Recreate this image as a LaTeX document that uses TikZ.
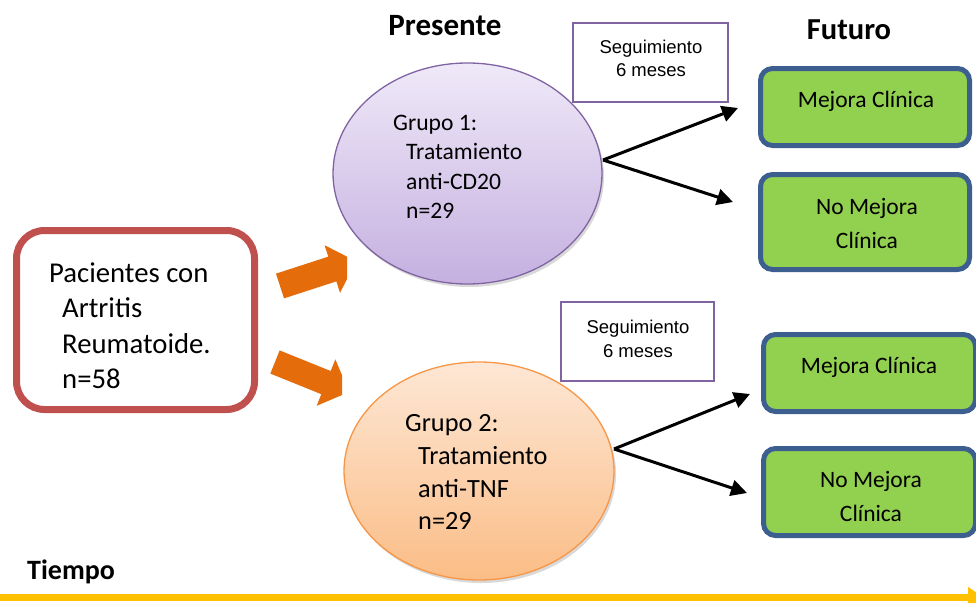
\documentclass[tikz,border=0pt]{standalone}
\usepackage{fontspec}
\setmainfont{Carlito}
\newfontfamily\arialf{Liberation Sans}
\usetikzlibrary{shapes.geometric,arrows.meta,shadows}
\definecolor{redb}{HTML}{C0504D}
\definecolor{purb}{HTML}{8064A2}
\definecolor{orgb}{HTML}{F79646}
\definecolor{orar}{HTML}{E46C0A}
\definecolor{grf}{HTML}{92D050}
\definecolor{blb}{HTML}{3C5F8F}
\definecolor{yel}{HTML}{FFC000}
\definecolor{eatop}{HTML}{EFE9F8}
\definecolor{eabot}{HTML}{C5B0E0}
\definecolor{ebtop}{HTML}{FDE7D5}
\definecolor{ebbot}{HTML}{FBBD86}
\begin{document}
\begin{tikzpicture}[x=1pt,y=-1pt,
  lt/.style={inner sep=0pt,anchor=base west},
  ct/.style={inner sep=0pt,anchor=base},
  pacf/.style={font=\fontsize{28.7}{34}\selectfont},
  g1f/.style={font=\fontsize{23.6}{28}\selectfont},
  g2f/.style={font=\fontsize{26.3}{30}\selectfont},
  gtf/.style={font=\fontsize{23.5}{28}\selectfont},
  sgf/.style={font=\arialf\fontsize{18.5}{22}\selectfont},
  gbox/.style={draw=blb,fill=grf,line width=5pt,rounded corners=12pt},
  sbox/.style={draw=purb,fill=white,line width=1.5pt},
  blk/.style={line width=3pt,-{Triangle[length=16pt,width=16pt]}},
  oarrow/.style={fill=orar}]
\useasboundingbox (0,0) rectangle (976,602);

% orange block arrows (cut off on the right)
\begin{scope}
  \clip (0,0) rectangle (347,300);
  \begin{scope}[shift={(280,286)},rotate=18]
    \fill[oarrow] (0,-13) -- (55,-13) -- (55,-25) -- (80,0) -- (55,25) -- (55,13) -- (0,13) -- cycle;
  \end{scope}
\end{scope}
\begin{scope}
  \clip (0,300) rectangle (342,602);
  \begin{scope}[shift={(275,362)},rotate=-22]
    \fill[oarrow] (0,-12.5) -- (55,-12.5) -- (55,-25) -- (80,0) -- (55,25) -- (55,12.5) -- (0,12.5) -- cycle;
  \end{scope}
\end{scope}

% patients box
\node[draw=redb,line width=7pt,rounded corners=28pt,fill=white,minimum width=238pt,minimum height=179pt] (pac) at (135.5,320) {};
\node[lt,pacf] (p1) at (49,282) {Pacientes con};
\node[lt,pacf] (p2) at (62,317) {Artritis};
\node[lt,pacf] (p3) at (62,353) {Reumatoide.};
\node[lt,pacf] (p4) at (62,388) {n=58};

% headings
\node[ct,font=\fontsize{31}{36}\selectfont\bfseries] (pres) at (445,36) {Presente};
\node[ct,font=\fontsize{30.5}{36}\selectfont\bfseries] (fut) at (849,40) {Futuro};
\node[lt,font=\fontsize{28}{32}\selectfont\bfseries] (tiempo) at (27,579) {Tiempo};

% ellipses
\node[ellipse,draw=purb,line width=1.3pt,top color=eatop,bottom color=eabot,minimum width=269pt,minimum height=221pt,
  drop shadow={opacity=0.3,shadow xshift=2pt,shadow yshift=-3pt}] (g1) at (467.5,173.5) {};
\node[lt,g1f] (g1a) at (393,130) {Grupo 1:};
\node[lt,g1f] (g1b) at (406,159) {Tratamiento};
\node[lt,g1f] (g1c) at (406,189) {anti-CD20};
\node[lt,g1f] (g1d) at (406,218) {n=29};

\node[ellipse,draw=orgb,line width=1.3pt,top color=ebtop,bottom color=ebbot,minimum width=270pt,minimum height=218pt,
  drop shadow={opacity=0.3,shadow xshift=2pt,shadow yshift=-3pt}] (g2) at (479,471) {};
\node[lt,g2f] (g2a) at (405,431) {Grupo 2:};
\node[lt,g2f] (g2b) at (418,464) {Tratamiento};
\node[lt,g2f] (g2c) at (418,497) {anti-TNF};
\node[lt,g2f] (g2d) at (418,529) {n=29};

% follow-up boxes
\node[sbox,minimum width=155pt,minimum height=79pt] (s1) at (650.5,62.5) {};
\node[ct,sgf] (s1a) at (651,53) {Seguimiento};
\node[ct,sgf] (s1b) at (651,77) {6 meses};
\node[sbox,minimum width=153pt,minimum height=79pt] (s2) at (637.5,341.5) {};
\node[ct,sgf] (s2a) at (638,333) {Seguimiento};
\node[ct,sgf] (s2b) at (638,357) {6 meses};

% outcome boxes
\node[gbox,minimum width=209pt,minimum height=77pt] (oa) at (865,107) {};
\node[ct,gtf] (oat) at (866,107) {Mejora Clínica};
\node[gbox,minimum width=209pt,minimum height=95pt] (ob) at (865,222) {};
\node[ct,gtf] (obt1) at (867,214) {No Mejora};
\node[ct,gtf] (obt2) at (867,248) {Clínica};
\node[gbox,minimum width=212pt,minimum height=77pt] (oc) at (869.5,373) {};
\node[ct,gtf] (oct) at (869,373) {Mejora Clínica};
\node[gbox,minimum width=212pt,minimum height=87pt] (od) at (869.5,492) {};
\node[ct,gtf] (odt1) at (871,487) {No Mejora};
\node[ct,gtf] (odt2) at (871,521) {Clínica};

% black connectors
\coordinate (v1) at (603,160);
\coordinate (ta) at (738,108);
\coordinate (tb) at (733,202);
\draw[blk] (v1) -- (ta);
\draw[blk] (v1) -- (tb);
\coordinate (v2) at (614,449);
\coordinate (tc) at (750,394);
\coordinate (td) at (747,493);
\draw[blk] (v2) -- (tc);
\draw[blk] (v2) -- (td);

% time axis
\coordinate (tl) at (0,597.5);
\coordinate (tr) at (984,597.5);
\draw[yel,line width=7pt,-{Triangle[length=16pt,width=20pt]}] (tl) -- (tr);
\end{tikzpicture}
\end{document}
